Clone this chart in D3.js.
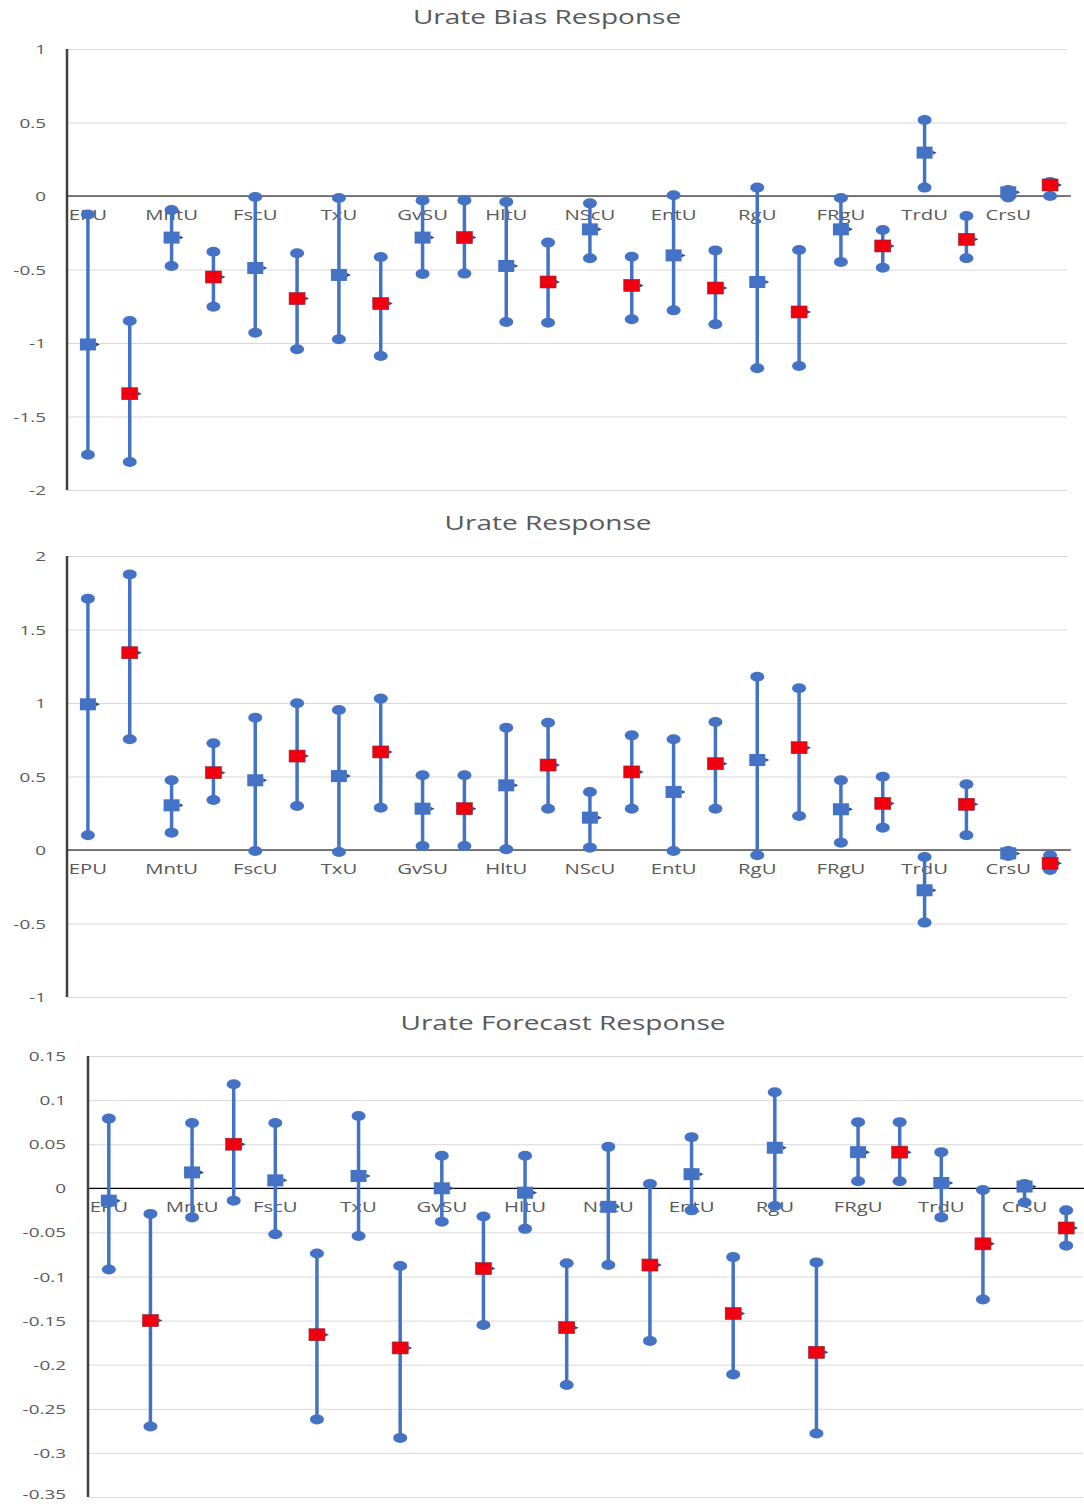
<!DOCTYPE html>
<html>
<head>
<meta charset="utf-8">
<script src="https://cdn.jsdelivr.net/npm/d3@7"></script>
<style>
  body { margin: 0; background: #fff; }
  text { font-family: "Open Sans", sans-serif; fill: #595959; }
</style>
</head>
<body>
<div id="chart"></div>
<script>
const categories = ["EPU","MntU","FscU","TxU","GvSU","HltU","NScU","EntU","RgU","FRgU","TrdU","CrsU"];

// Urate Bias Response
const bias_blue_mid = [-1.01, -0.283, -0.49, -0.537, -0.283, -0.476, -0.227, -0.404, -0.585, -0.227, 0.295, 0.025];
const bias_blue_hi  = [-0.125, -0.095, -0.007, -0.014, -0.03, -0.04, -0.05, 0.005, 0.057, -0.014, 0.517, 0.04];
const bias_blue_lo  = [-1.76, -0.476, -0.93, -0.975, -0.53, -0.857, -0.424, -0.778, -1.172, -0.449, 0.057, -0.01];
const bias_red_mid  = [-1.345, -0.551, -0.698, -0.732, -0.283, -0.585, -0.608, -0.626, -0.789, -0.34, -0.295, 0.075];
const bias_red_hi   = [-0.85, -0.379, -0.39, -0.415, -0.03, -0.317, -0.413, -0.37, -0.367, -0.231, -0.136, 0.095];
const bias_red_lo   = [-1.81, -0.753, -1.043, -1.088, -0.528, -0.862, -0.839, -0.873, -1.156, -0.488, -0.424, 0.0];
const bias_ticks = [1, 0.5, 0, -0.5, -1, -1.5, -2];

// Urate Response
const resp_blue_mid = [0.991, 0.304, 0.474, 0.503, 0.281, 0.44, 0.22, 0.395, 0.612, 0.277, -0.274, -0.023];
const resp_blue_hi  = [1.71, 0.474, 0.9, 0.952, 0.508, 0.832, 0.395, 0.753, 1.179, 0.474, -0.048, -0.007];
const resp_blue_lo  = [0.10, 0.118, -0.007, -0.014, 0.027, 0.005, 0.016, -0.007, -0.036, 0.05, -0.494, -0.04];
const resp_red_mid  = [1.342, 0.526, 0.639, 0.667, 0.281, 0.578, 0.531, 0.587, 0.696, 0.317, 0.311, -0.09];
const resp_red_hi   = [1.875, 0.726, 0.998, 1.03, 0.508, 0.866, 0.78, 0.871, 1.10, 0.499, 0.447, -0.036];
const resp_red_lo   = [0.753, 0.34, 0.299, 0.288, 0.027, 0.281, 0.281, 0.281, 0.231, 0.152, 0.10, -0.136];
const resp_ticks = [2, 1.5, 1, 0.5, 0, -0.5, -1];

// Urate Forecast Response
const fcst_blue_mid = [-0.014, 0.018, 0.009, 0.014, 0.0, -0.005, -0.021, 0.016, 0.046, 0.041, 0.006, 0.002];
const fcst_blue_hi  = [0.079, 0.074, 0.074, 0.082, 0.037, 0.037, 0.047, 0.058, 0.109, 0.075, 0.041, 0.005];
const fcst_blue_lo  = [-0.092, -0.033, -0.052, -0.054, -0.038, -0.046, -0.087, -0.025, -0.020, 0.008, -0.033, -0.016];
const fcst_red_mid  = [-0.150, 0.050, -0.166, -0.181, -0.091, -0.158, -0.087, -0.142, -0.186, 0.041, -0.063, -0.045];
const fcst_red_hi   = [-0.029, 0.118, -0.074, -0.088, -0.032, -0.085, 0.005, -0.078, -0.084, 0.075, -0.002, -0.025];
const fcst_red_lo   = [-0.270, -0.014, -0.262, -0.283, -0.155, -0.223, -0.173, -0.211, -0.278, 0.008, -0.126, -0.065];
const fcst_ticks = [0.15, 0.1, 0.05, 0, -0.05, -0.1, -0.15, -0.2, -0.25, -0.3, -0.35];

const blue = '#4472C4', red = '#F0000F';
const sx = 1.4; // text in the picture is stretched horizontally

const svg = d3.select('#chart').append('svg')
    .attr('width', 1084)
    .attr('height', 1504);

const stretched = function(grp, x, y, str, size, anchor){
    return grp.append('text')
        .attr('transform', `translate(${x},${y}) scale(${sx},1)`)
        .attr('text-anchor', anchor)
        .style('font-size', size + 'px')
        .text(str);
}

const panels = [
    {title: 'Urate Bias Response', ty: 24, tx: 547, left: 67, right: 1071, top: 49, bottom: 490,
     domain: [-2, 1], ticks: bias_ticks, labelX: 46,
     blue: [bias_blue_mid, bias_blue_lo, bias_blue_hi], red: [bias_red_mid, bias_red_lo, bias_red_hi]},
    {title: 'Urate Response', ty: 530, tx: 548, left: 67, right: 1071, top: 556, bottom: 997,
     domain: [-1, 2], ticks: resp_ticks, labelX: 46,
     blue: [resp_blue_mid, resp_blue_lo, resp_blue_hi], red: [resp_red_mid, resp_red_lo, resp_red_hi]},
    {title: 'Urate Forecast Response', ty: 1030, tx: 563, left: 88, right: 1087, top: 1056, bottom: 1497,
     domain: [-0.35, 0.15], ticks: fcst_ticks, labelX: 66,
     blue: [fcst_blue_mid, fcst_blue_lo, fcst_blue_hi], red: [fcst_red_mid, fcst_red_lo, fcst_red_hi]}
];

panels.forEach(function(p){
    const g = svg.append('g');

    const x = d3.scaleBand()
        .domain(categories)
        .range([p.left, p.right]);
    const bw = x.bandwidth();
    const y = d3.scaleLinear()
        .domain(p.domain)
        .range([p.bottom, p.top]);

    // gridlines
    g.append('g')
        .attr('transform', `translate(${p.left},0)`)
        .call(d3.axisLeft(y).tickValues(p.ticks).tickSize(-(p.right - p.left - 4)).tickFormat(''))
        .call(a => a.select('.domain').remove())
        .call(a => a.selectAll('line').attr('stroke', '#d9d9d9').attr('stroke-width', 1));

    // tick labels (kept inside the page at the bottom edge)
    p.ticks.forEach(function(t){
        stretched(g, p.labelX, Math.min(y(t) + 5, 1499), String(t), 13.5, 'end');
    });

    // zero line and y axis
    g.append('line')
        .attr('x1', p.left).attr('x2', p.right)
        .attr('y1', y(0)).attr('y2', y(0))
        .attr('stroke', '#000').attr('stroke-width', 1.2);
    g.append('line')
        .attr('x1', p.left).attr('x2', p.left)
        .attr('y1', p.top).attr('y2', p.bottom)
        .attr('stroke', '#404040').attr('stroke-width', 2.5);

    // title
    stretched(g, p.tx, p.ty, p.title, 20, 'middle');

    // category labels, at the first marker of each pair
    categories.forEach(function(c){
        stretched(g, x(c) + bw / 4, y(0) + 24, c, 14.5, 'middle');
    });

    // error bars + markers
    const series = [
        {vals: p.blue, off: 0.25, fill: blue},
        {vals: p.red, off: 0.75, fill: red}
    ];
    series.forEach(function(s){
        const [mid, lo, hi] = s.vals;
        const grp = g.append('g');
        categories.forEach(function(c, i){
            const cx = x(c) + bw * s.off;
            grp.append('line')
                .attr('x1', cx).attr('x2', cx)
                .attr('y1', y(hi[i])).attr('y2', y(lo[i]))
                .attr('stroke', blue).attr('stroke-width', 3.5);
            [hi[i], lo[i]].forEach(function(v){
                grp.append('ellipse')
                    .attr('cx', cx).attr('cy', y(v))
                    .attr('rx', 7).attr('ry', 5)
                    .attr('fill', blue);
            });
            grp.append('path')
                .attr('d', `M${cx + 8},${y(mid[i]) - 2}l4,2l-4,2z`)
                .attr('fill', '#2f4f8f');
            grp.append('rect')
                .attr('x', cx - 8).attr('y', y(mid[i]) - 6)
                .attr('width', 16).attr('height', 12)
                .attr('fill', s.fill)
                .attr('stroke', s.fill === red ? '#8a2a3a' : 'none')
                .attr('stroke-width', 0.6);
        });
    });
});
</script>
</body>
</html>
